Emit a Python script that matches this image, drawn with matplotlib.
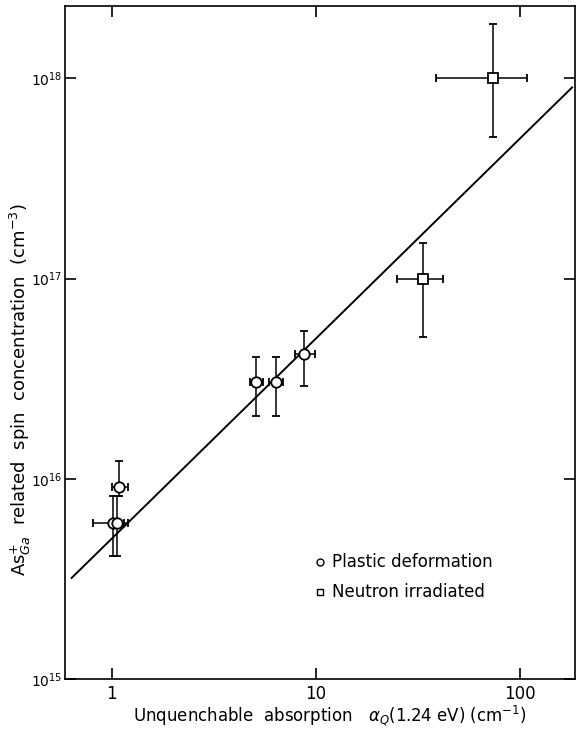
import numpy as np
import matplotlib
matplotlib.use('Agg')
import matplotlib.pyplot as plt
from matplotlib.ticker import FixedLocator, NullLocator

# plastic deformation samples (circles)
pd_x = [1.01, 1.06, 1.09, 5.1, 6.4, 8.8]
pd_y = [6.0e15, 6.0e15, 9.1e15, 3.05e16, 3.05e16, 4.2e16]
pd_xlo = [0.81, 1.0, 1.0, 4.75, 5.9, 7.9]
pd_xhi = [1.20, 1.15, 1.20, 5.5, 6.9, 9.9]
pd_ylo = [4.1e15, 4.1e15, 8.2e15, 2.05e16, 2.05e16, 2.9e16]
pd_yhi = [8.2e15, 8.2e15, 1.23e16, 4.05e16, 4.05e16, 5.5e16]

# neutron irradiated samples (squares)
ni_x = [33.5, 73.8]
ni_y = [1.0e17, 1.0e18]
ni_xlo = [25.0, 38.7]
ni_xhi = [42.0, 108.0]
ni_ylo = [5.1e16, 5.1e17]
ni_yhi = [1.5e17, 1.86e18]

# fitted line endpoints
fit_x = [0.637, 180.0]
fit_y = [3.2e15, 9.0e17]

plt.rcParams['font.family'] = 'DejaVu Sans'

fig = plt.figure(figsize=(5.79, 7.31), dpi=100)
ax = fig.add_axes([0.112, 0.071, 0.881, 0.921])
ax.set_xscale('log')
ax.set_yscale('log')

ax.plot(fit_x, fit_y, color='black', lw=1.4)

def errs(v, lo, hi):
    v = np.array(v); lo = np.array(lo); hi = np.array(hi)
    return [v - lo, hi - v]

ax.errorbar(pd_x, pd_y, xerr=errs(pd_x, pd_xlo, pd_xhi), yerr=errs(pd_y, pd_ylo, pd_yhi),
            fmt='o', mfc='white', mec='black', mew=1.3, ms=7.5, ecolor='black',
            elinewidth=1.1, capsize=3, capthick=1.1, zorder=3)
ax.errorbar(ni_x, ni_y, xerr=errs(ni_x, ni_xlo, ni_xhi), yerr=errs(ni_y, ni_ylo, ni_yhi),
            fmt='s', mfc='white', mec='black', mew=1.3, ms=7, ecolor='black',
            elinewidth=1.1, capsize=3, capthick=1.1, zorder=3)

ax.set_xlim(0.59, 186)
ax.set_ylim(1e15, 2.3e18)

ax.xaxis.set_major_locator(FixedLocator([1, 10, 100]))
ax.xaxis.set_minor_locator(NullLocator())
ax.yaxis.set_major_locator(FixedLocator([1e15, 1e16, 1e17, 1e18]))
ax.yaxis.set_minor_locator(NullLocator())
ax.set_xticklabels(['1', '10', '100'])
ax.set_yticklabels([r'$10^{15}$', r'$10^{16}$', r'$10^{17}$', r'$10^{18}$'])
ax.tick_params(which='major', direction='in', length=8, width=1.2,
               top=True, right=True, labelsize=12)
ax.tick_params(axis='x', pad=4)
ax.tick_params(axis='y', pad=2, labelsize=10)
for s in ax.spines.values():
    s.set_linewidth(1.2)

ax.set_xlabel(r'Unquenchable  absorption   $\alpha_Q$(1.24 eV) (cm$^{-1}$)', fontsize=12)
ax.xaxis.set_label_coords(0.52, -0.036)
ax.set_ylabel(r'As$^{+}_{Ga}$  related  spin  concentration  (cm$^{-3}$)', fontsize=13)
ax.yaxis.set_label_coords(-0.062, 0.43)

# legend drawn by hand
ax.plot([0.500], [0.174], 'o', mfc='white', mec='black', mew=1.0, ms=5, transform=ax.transAxes)
ax.text(0.524, 0.174, 'Plastic deformation', transform=ax.transAxes, fontsize=12, va='center')
ax.plot([0.500], [0.129], 's', mfc='white', mec='black', mew=1.0, ms=5, transform=ax.transAxes)
ax.text(0.524, 0.129, 'Neutron irradiated', transform=ax.transAxes, fontsize=12, va='center')

fig.savefig('out.png', dpi=100)
